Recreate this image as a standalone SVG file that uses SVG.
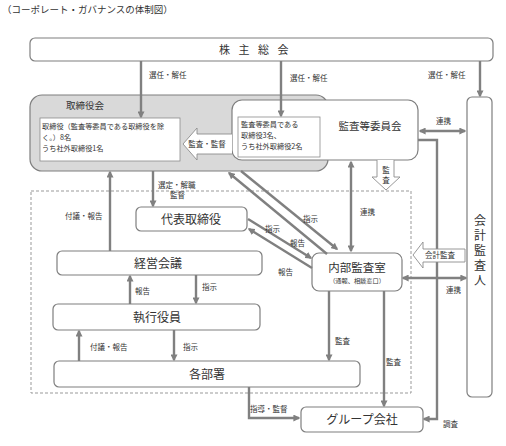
<svg xmlns="http://www.w3.org/2000/svg" width="506" height="446" viewBox="0 0 506 446">
<style>
text{font-family:"Noto Sans CJK JP","Noto Sans",sans-serif;fill:#333}
.box{fill:#fff;stroke:#7f7f7f;stroke-width:1.2}
.inner{fill:#fff;stroke:#8c8c8c;stroke-width:0.8}
.big{font-size:12px;text-anchor:middle}
.sm{font-size:7.5px}
.in{font-size:7.2px}
.ln{fill:none;stroke:#808080;stroke-width:2.4}
.blk{fill:#fff;stroke:#8c8c8c;stroke-width:0.9}
</style>
<defs>
<marker id="ah" viewBox="0 0 10 10" refX="8" refY="5" markerWidth="7" markerHeight="7" markerUnits="userSpaceOnUse" orient="auto-start-reverse">
<path d="M0,0L10,5L0,10z" fill="#808080"/>
</marker>
</defs>
<rect width="506" height="446" fill="#fff"/>
<text x="2" y="13" style="font-size:9.5px">（コーポレート・ガバナンスの体制図）</text>

<rect id="governance-area" x="31" y="191" width="380" height="202" fill="none" stroke="#999" stroke-width="1" stroke-dasharray="3,2"/>

<g id="shareholders">
<rect class="box" x="30" y="38" width="463" height="23" rx="5"/>
<text x="258" y="54" style="font-size:11px;letter-spacing:8.5px" text-anchor="middle">株主総会</text>
</g>

<g id="board">
<rect x="30" y="95" width="298" height="76" rx="12" fill="#d9d9d9" stroke="#7f7f7f" stroke-width="1.2"/>
<text x="85" y="109" style="font-size:9.5px" text-anchor="middle">取締役会</text>
<rect class="inner" x="40" y="118" width="140" height="43"/>
<text class="in" x="42" y="129">取締役（監査等委員である取締役を除</text>
<text class="in" x="42" y="140">く。）8名</text>
<text class="in" x="42" y="151">うち社外取締役1名</text>
</g>

<g id="audit-committee">
<rect class="box" x="232" y="100" width="186" height="60" rx="10"/>
<rect class="inner" x="238" y="117" width="82" height="40"/>
<text class="in" x="241" y="127">監査等委員である</text>
<text class="in" x="241" y="138">取締役3名、</text>
<text class="in" x="241" y="149">うち社外取締役2名</text>
<text x="370" y="130" style="font-size:10.5px" text-anchor="middle">監査等委員会</text>
</g>

<g id="auditor">
<rect class="box" x="467" y="97" width="25" height="300" rx="5"/>
<text x="480" y="252" writing-mode="vertical-rl" text-anchor="middle" style="font-size:12px;letter-spacing:3px">会計監査人</text>
</g>

<g id="rep-director">
<rect class="box" x="136" y="207" width="111" height="24" rx="5"/>
<text x="191" y="224" class="big">代表取締役</text>
</g>

<g id="mgmt-meeting">
<rect class="box" x="57" y="251" width="205" height="24" rx="5"/>
<text x="158" y="268" class="big">経営会議</text>
</g>

<g id="officers">
<rect class="box" x="53" y="304" width="207" height="26" rx="5"/>
<text x="157" y="322" class="big">執行役員</text>
</g>

<g id="departments">
<rect class="box" x="54" y="361" width="306" height="26" rx="5"/>
<text x="207" y="379" class="big">各部署</text>
</g>

<g id="internal-audit">
<rect class="box" x="312" y="253" width="90" height="38" rx="7"/>
<text x="357" y="272" style="font-size:11.5px" text-anchor="middle">内部監査室</text>
<text x="357" y="283" style="font-size:6.2px" text-anchor="middle">（通報、相談窓口）</text>
</g>

<g id="group-companies">
<rect class="box" x="301" y="407" width="122" height="25" rx="5"/>
<text x="362" y="424" class="big">グループ会社</text>
</g>

<g id="connectors">
<line class="ln" x1="141" y1="61" x2="141" y2="117" marker-end="url(#ah)"/>
<line class="ln" x1="281" y1="61" x2="281" y2="116" marker-end="url(#ah)"/>
<line class="ln" x1="480" y1="61" x2="480" y2="96" marker-end="url(#ah)"/>
<line class="ln" x1="153" y1="171" x2="153" y2="206" marker-end="url(#ah)"/>
<line class="ln" x1="110" y1="251" x2="110" y2="172" marker-end="url(#ah)"/>
<line class="ln" x1="130" y1="304" x2="130" y2="276" marker-end="url(#ah)"/>
<line class="ln" x1="196" y1="275" x2="196" y2="303" marker-end="url(#ah)"/>
<line class="ln" x1="79" y1="361" x2="79" y2="331" marker-end="url(#ah)"/>
<line class="ln" x1="174" y1="330" x2="174" y2="360" marker-end="url(#ah)"/>
<polyline class="ln" points="249,387 249,418 299,418" marker-end="url(#ah)"/>
<line class="ln" x1="241" y1="171" x2="337" y2="249" marker-end="url(#ah)"/>
<line class="ln" x1="327" y1="254" x2="229" y2="173" marker-end="url(#ah)"/>
<line class="ln" x1="248" y1="219" x2="311" y2="258" marker-end="url(#ah)"/>
<line class="ln" x1="312" y1="268" x2="249" y2="229" marker-end="url(#ah)"/>
<line class="ln" x1="351" y1="162" x2="351" y2="251" marker-start="url(#ah)" marker-end="url(#ah)"/>
<line class="ln" x1="420" y1="131" x2="465" y2="131" marker-start="url(#ah)" marker-end="url(#ah)"/>
<polyline class="ln" points="418,140 437,140 437,419 424,419" marker-end="url(#ah)"/>
<line class="ln" x1="403" y1="278" x2="466" y2="278" marker-start="url(#ah)" marker-end="url(#ah)"/>
<line class="ln" x1="329" y1="291" x2="329" y2="360" marker-end="url(#ah)"/>
<line class="ln" x1="384" y1="291" x2="384" y2="406" marker-end="url(#ah)"/>
<path class="blk" d="M232,134H197V128L183,144L197,160V154H232"/>
<path class="blk" d="M377,160V177H372L386,190L400,177H394V160"/>
<path class="blk" d="M465,249H423V242L413,255L423,268V262H465z"/>
</g>

<g id="labels">
<text class="sm" x="149" y="78">選任・解任</text>
<text class="sm" x="290" y="81">選任・解任</text>
<text class="sm" x="428" y="78">選任・解任</text>
<text class="sm" x="207" y="147" text-anchor="middle">監査・監督</text>
<text class="sm" x="386" y="173" text-anchor="middle">監</text>
<text class="sm" x="386" y="183" text-anchor="middle">査</text>
<text class="sm" x="440" y="258" text-anchor="middle">会計監査</text>
<text class="sm" x="158" y="188">選定・解職</text>
<text class="sm" x="170" y="198">監督</text>
<text class="sm" x="65" y="219">付議・報告</text>
<text class="sm" x="135" y="294">報告</text>
<text class="sm" x="202" y="290">指示</text>
<text class="sm" x="90" y="350">付議・報告</text>
<text class="sm" x="183" y="350">指示</text>
<text class="sm" x="250" y="412">指導・監督</text>
<text class="sm" x="335" y="344">監査</text>
<text class="sm" x="386" y="365">監査</text>
<text class="sm" x="443" y="427">調査</text>
<text class="sm" x="436" y="124">連携</text>
<text class="sm" x="360" y="215">連携</text>
<text class="sm" x="446" y="293">連携</text>
<text class="sm" x="303" y="222">指示</text>
<text class="sm" x="265" y="232">指示</text>
<text class="sm" x="290" y="246">報告</text>
<text class="sm" x="278" y="275">報告</text>
</g>
</svg>
